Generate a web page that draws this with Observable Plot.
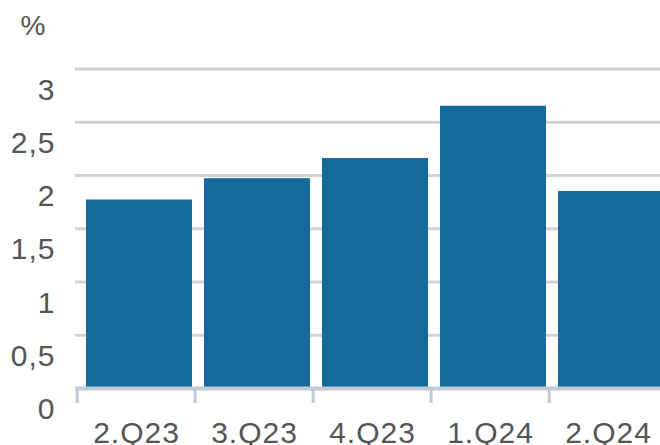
<!DOCTYPE html>
<html>
<head>
<meta charset="utf-8">
<script src="https://cdn.jsdelivr.net/npm/d3@7"></script>
<script src="https://cdn.jsdelivr.net/npm/@observablehq/plot@0.6"></script>
<style>
  html, body { margin: 0; padding: 0; background: #fff; }
  #chart svg { display: block; }
</style>
</head>
<body>
<div id="chart"></div>
<script>
const categories = ["2.Q23", "3.Q23", "4.Q23", "1.Q24", "2.Q24"];
const values = [1.77, 1.97, 2.16, 2.65, 1.85];
const yTicks = [0, 0.5, 1, 1.5, 2, 2.5, 3];
const yTickLabels = ["0", "0,5", "1", "1,5", "2", "2,5", "3"];
const unitLabel = "%";

const data = categories.map((q, i) => ({q, v: values[i]}));
const xRange = [75, 668.5];
const bw = (xRange[1] - xRange[0]) / categories.length;
const font = "'Liberation Sans', Arial, sans-serif";
const textFill = "#555";

const chart = Plot.plot({
  width: 660,
  height: 445,
  marginLeft: 75,
  marginRight: 0,
  marginTop: 68.5,
  marginBottom: 57,
  style: {fontFamily: font, background: "#fff"},
  x: {domain: categories, range: xRange, padding: 0, axis: null},
  y: {domain: [0, 3], axis: null},
  marks: [
    Plot.ruleY(yTicks.filter(d => d > 0), {stroke: "#d2d2d2", strokeWidth: 3}),
    Plot.barY(data, {x: "q", y: "v", fill: "#16699d", insetLeft: 9, insetRight: 3}),
    Plot.ruleY([0], {stroke: "#bfcbd8", strokeWidth: 4}),
    Plot.ruleX(categories, {x: d => d, dx: -bw / 2, y1: 0, insetBottom: -15, stroke: "#bfcbd8", strokeWidth: 3}),
    Plot.text(categories, {x: d => d, frameAnchor: "bottom", lineAnchor: "middle", dy: 45, fill: textFill, fontSize: 30, textAnchor: "middle"}),
    Plot.text(yTicks, {y: d => d, text: (d, i) => yTickLabels[i], frameAnchor: "left", lineAnchor: "middle", textAnchor: "end", dx: -20, dy: 21, fill: textFill, fontSize: 30}),
    Plot.text([unitLabel], {frameAnchor: "top-left", lineAnchor: "middle", text: d => d, dx: -42, dy: -43, textAnchor: "middle", fill: textFill, fontSize: 28})
  ]
});
chart.querySelectorAll("text").forEach(t => t.setAttribute("letter-spacing", "1"));
document.getElementById("chart").appendChild(chart);
</script>
</body>
</html>
